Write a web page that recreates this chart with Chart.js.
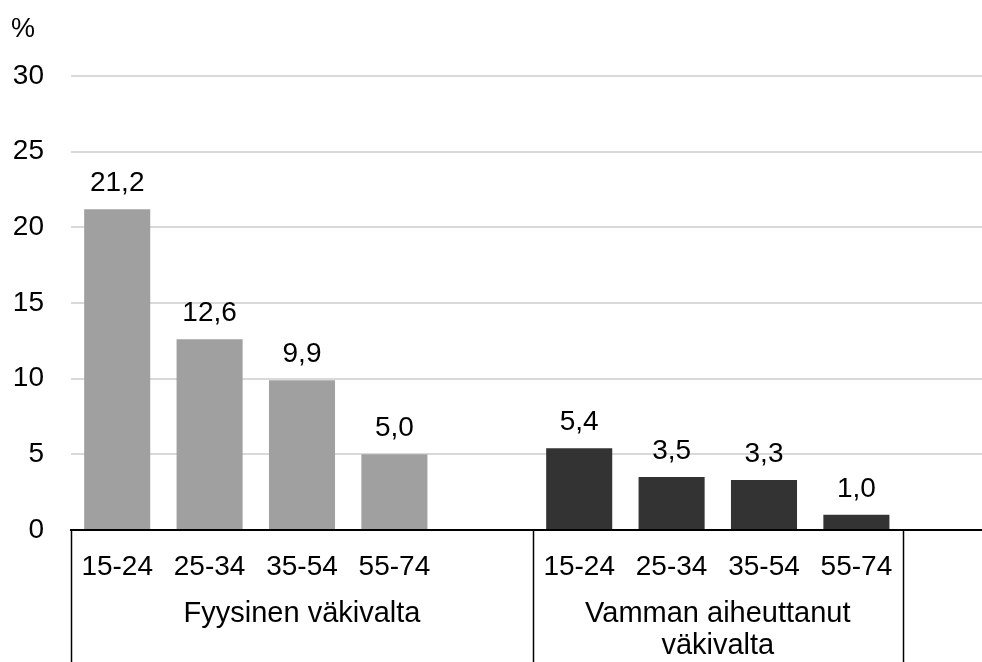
<!DOCTYPE html>
<html>
<head>
<meta charset="utf-8">
<style>
  html, body { margin: 0; padding: 0; background: #fff; overflow: hidden; }
  #wrap { width: 982px; height: 662px; overflow: hidden; position: relative; }
  canvas { display: block; }
</style>
</head>
<body>
<div id="wrap"><canvas id="chart" width="995" height="700"></canvas></div>
<script src="https://cdn.jsdelivr.net/npm/chart.js@4/dist/chart.umd.min.js"></script>
<script>
// data
const ageGroups = ['15-24', '25-34', '35-54', '55-74'];
const groupNames = [['Fyysinen väkivalta'], ['Vamman aiheuttanut', 'väkivalta']];
const physical = [21.2, 12.6, 9.9, 5.0];
const injury = [5.4, 3.5, 3.3, 1.0];
const yTicks = [0, 5, 10, 15, 20, 25, 30];
const unitLabel = '%';

const FONT = "'Liberation Sans', Arial, sans-serif";

// 4 bars + empty slot per group
const labels = [...ageGroups, '', ...ageGroups, ''];
const physicalData = [...physical, null, ...ageGroups.map(() => null), null];
const injuryData = [...ageGroups.map(() => null), null, ...injury, null];

function fmt(v) {
    return v.toFixed(1).replace('.', ',');
}

// value labels above bars, group labels and separators under the axis
const extrasPlugin = {
    id: 'extras',
    afterDatasetsDraw(chart) {
        const ctx = chart.ctx;
        ctx.save();
        ctx.fillStyle = '#000';
        ctx.font = '28px ' + FONT;
        ctx.textAlign = 'center';
        ctx.textBaseline = 'alphabetic';
        chart.data.datasets.forEach((ds, di) => {
            chart.getDatasetMeta(di).data.forEach((bar, i) => {
                const v = ds.data[i];
                if (v === null || v === undefined) return;
                ctx.fillText(fmt(v), bar.x, bar.y - 18);
            });
        });
        ctx.restore();
    },
    afterDraw(chart) {
        const ctx = chart.ctx;
        const x = chart.scales.x;
        const half = (x.getPixelForValue(1) - x.getPixelForValue(0)) / 2;
        const bottom = chart.chartArea.bottom;
        ctx.save();

        // separator lines
        ctx.strokeStyle = '#000';
        ctx.lineWidth = 1.5;
        [0, 5, 9].forEach(idx => {
            const px = Math.round(x.getPixelForValue(idx) - half) + 0.5;
            ctx.beginPath();
            ctx.moveTo(px, bottom);
            ctx.lineTo(px, chart.height);
            ctx.stroke();
        });

        // group labels
        ctx.fillStyle = '#000';
        ctx.font = '29px ' + FONT;
        ctx.textAlign = 'center';
        ctx.textBaseline = 'alphabetic';
        const spans = [[0, 5], [5, 9]];
        spans.forEach((s, gi) => {
            const cx = (x.getPixelForValue(s[0]) + x.getPixelForValue(s[1])) / 2 - half;
            groupNames[gi].forEach((line, li) => {
                ctx.fillText(line, cx, 622 + li * 32);
            });
        });

        // unit
        ctx.textAlign = 'left';
        ctx.font = '27px ' + FONT;
        ctx.fillText(unitLabel, 11, 37);
        ctx.restore();
    }
};

new Chart(document.getElementById('chart'), {
    type: 'bar',
    data: {
        labels: labels,
        datasets: [
            { data: physicalData, backgroundColor: '#a0a0a0' },
            { data: injuryData, backgroundColor: '#333333' }
        ]
    },
    options: {
        responsive: false,
        animation: false,
        layout: { padding: { top: 76, left: 0, right: 0, bottom: 0 } },
        datasets: { bar: { barPercentage: 0.715, categoryPercentage: 1 } },
        plugins: {
            legend: { display: false },
            tooltip: { enabled: false }
        },
        scales: {
            x: {
                stacked: true,
                grid: { display: false, drawTicks: false },
                border: { display: true, color: '#000', width: 2 },
                ticks: { color: '#000', font: { family: FONT, size: 28 }, padding: 20, maxRotation: 0, autoSkip: false },
                afterFit(scale) { scale.height = 170; }
            },
            y: {
                stacked: true,
                min: 0,
                max: 30,
                afterBuildTicks(scale) { scale.ticks = yTicks.map(v => ({ value: v })); },
                grid: { color: '#d9d9d9', lineWidth: 2, drawTicks: false },
                border: { display: false },
                ticks: { color: '#000', font: { family: FONT, size: 28 }, padding: 27 },
                afterFit(scale) { scale.width = 71; }
            }
        }
    },
    plugins: [extrasPlugin]
});
</script>
</body>
</html>
